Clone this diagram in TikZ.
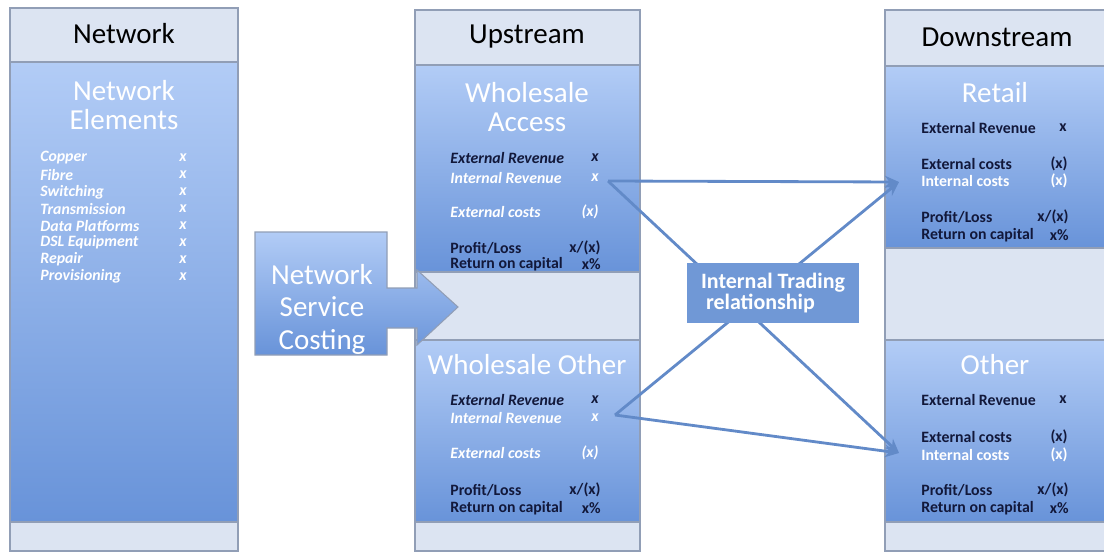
\documentclass[tikz,border=0pt]{standalone}
\usepackage{fontspec}
\setmainfont{Carlito}
\usepackage{tikz}
\usetikzlibrary{arrows.meta}
\usepackage{xcolor}

\definecolor{bandfill}{RGB}{220,228,242}
\definecolor{rimgray}{RGB}{145,158,182}
\definecolor{paneltop}{RGB}{178,204,246}
\definecolor{panelbot}{RGB}{104,147,217}
\definecolor{darktext}{RGB}{18,24,58}
\definecolor{linkblue}{RGB}{98,138,200}
\definecolor{tradefill}{RGB}{112,152,214}

\tikzset{
  column/.style={draw=rimgray, fill=bandfill, line width=0.6pt},
  panel/.style={draw=rimgray, top color=paneltop, bottom color=panelbot, line width=0.6pt},
  head/.style={font=\fontsize{16.5}{18}\selectfont, text=black},
  title/.style={font=\fontsize{16.5}{17}\selectfont, text=white, align=center},
  itdark/.style={font=\bfseries\itshape\fontsize{9}{10}\selectfont, text=darktext, anchor=west, inner sep=0pt},
  itlight/.style={font=\bfseries\itshape\fontsize{9}{10}\selectfont, text=white, anchor=west, inner sep=0pt},
  updark/.style={font=\bfseries\fontsize{9}{10}\selectfont, text=darktext, anchor=west, inner sep=0pt},
  uplight/.style={font=\bfseries\fontsize{9}{10}\selectfont, text=white, anchor=west, inner sep=0pt},
  val/.style={anchor=east},
  link/.style={draw=linkblue, line width=1.6pt, -{Stealth[length=8pt,width=7pt]}},
  tradebox/.style={fill=tradefill, text=white, font=\bfseries\fontsize{12.5}{14}\selectfont,
    align=left, minimum width=3.44cm, minimum height=1.22cm}
}

\begin{document}
\begin{tikzpicture}[x=0.02cm, y=-0.02cm]
    \useasboundingbox (0,0) rectangle (1104,554);

    % columns
    \draw[column] (10,8) rectangle (238,551);
    \draw[column] (415,10) rectangle (640,551);
    \draw[column] (885,10) rectangle (1110,551);

    \draw[panel] (10,62) rectangle (238,522);
    \draw[panel] (415,65) rectangle (640,272);
    \draw[panel] (415,340) rectangle (640,522);
    \draw[panel] (885,66) rectangle (1110,248);
    \draw[panel] (885,340) rectangle (1110,522);

    \node[head] (nethead) at (124,34) {Network};
    \node[head] (uphead) at (527,37) {Upstream};
    \node[head] (downhead) at (997,37) {Downstream};

    % network elements
    \node[title] (elements) at (124,105) {Network\\Elements};
    \foreach \name [count=\i from 0] in {Copper,Fibre,Switching,Transmission,Data Platforms,DSL Equipment,Repair,Provisioning}{
        \node[itlight] (elem\i) at (40,{158+16.9*\i}) {\name};
        \node[itlight, anchor=center] (elemx\i) at (183,{158+16.9*\i}) {x};
    }

    % upstream
    \node[title] (access) at (527,107) {Wholesale\\Access};
    \node[itdark] (wa1) at (450,158) {External Revenue};
    \node[itdark, val] (wa1x) at (599,158) {x};
    \node[itlight] (wa2) at (450,178) {Internal Revenue};
    \node[itlight, val] (wa2x) at (599,178) {x};
    \node[itlight] (wa3) at (450,212) {External costs};
    \node[itlight, val] (wa3x) at (599,212) {(x)};
    \node[updark] (wa4) at (450,248) {Profit/Loss};
    \node[updark, val] (wa4x) at (601,248) {x/(x)};
    \node[updark] (wa5) at (450,264) {Return on capital};
    \node[updark, val] (wa5x) at (601,264) {x\%};

    \node[title] (wother) at (527,365) {Wholesale Other};
    \node[itdark] (wo1) at (450,400) {External Revenue};
    \node[itdark, val] (wo1x) at (599,400) {x};
    \node[itlight] (wo2) at (450,418) {Internal Revenue};
    \node[itlight, val] (wo2x) at (599,418) {x};
    \node[itlight] (wo3) at (450,453) {External costs};
    \node[itlight, val] (wo3x) at (599,453) {(x)};
    \node[updark] (wo4) at (450,490) {Profit/Loss};
    \node[updark, val] (wo4x) at (601,490) {x/(x)};
    \node[updark] (wo5) at (450,508) {Return on capital};
    \node[updark, val] (wo5x) at (601,508) {x\%};

    % downstream
    \node[title] (retail) at (995,93) {Retail};
    \node[updark] (rt1) at (921,128) {External Revenue};
    \node[updark, val] (rt1x) at (1067,128) {x};
    \node[updark] (rt2) at (921,164) {External costs};
    \node[updark, val] (rt2x) at (1068,164) {(x)};
    \node[uplight] (rt3) at (921,181) {Internal costs};
    \node[uplight, val] (rt3x) at (1068,181) {(x)};
    \node[updark] (rt4) at (921,217) {Profit/Loss};
    \node[updark, val] (rt4x) at (1069,217) {x/(x)};
    \node[updark] (rt5) at (921,235) {Return on capital};
    \node[updark, val] (rt5x) at (1069,235) {x\%};

    \node[title] (dother) at (995,365) {Other};
    \node[updark] (ot1) at (921,400) {External Revenue};
    \node[updark, val] (ot1x) at (1067,400) {x};
    \node[updark] (ot2) at (921,437) {External costs};
    \node[updark, val] (ot2x) at (1068,437) {(x)};
    \node[uplight] (ot3) at (921,455) {Internal costs};
    \node[uplight, val] (ot3x) at (1068,455) {(x)};
    \node[updark] (ot4) at (921,490) {Profit/Loss};
    \node[updark, val] (ot4x) at (1069,490) {x/(x)};
    \node[updark] (ot5) at (921,508) {Return on capital};
    \node[updark, val] (ot5x) at (1069,508) {x\%};

    % network service costing arrow
    \draw[panel] (255,232) -- (387,232) -- (387,288) -- (417,288) -- (417,270) -- (458,307)
        -- (417,345) -- (417,328) -- (387,328) -- (387,355) -- (255,355) -- cycle;
    \node[title, font=\fontsize{16.5}{18.5}\selectfont] (costing) at (322,309) {Network\\Service\\Costing};

    % internal trading
    \coordinate (waout) at (608,181);
    \coordinate (woout) at (615,415);
    \coordinate (rtin) at (899,182);
    \coordinate (otin) at (899,453);
    \draw[link] (waout) -- (rtin);
    \draw[link] (waout) -- (otin);
    \draw[link] (woout) -- (rtin);
    \draw[link] (woout) -- (otin);
    \node[tradebox] (trading) at (773,293) {Internal Trading\\[-2pt]\ relationship};
\end{tikzpicture}
\end{document}
